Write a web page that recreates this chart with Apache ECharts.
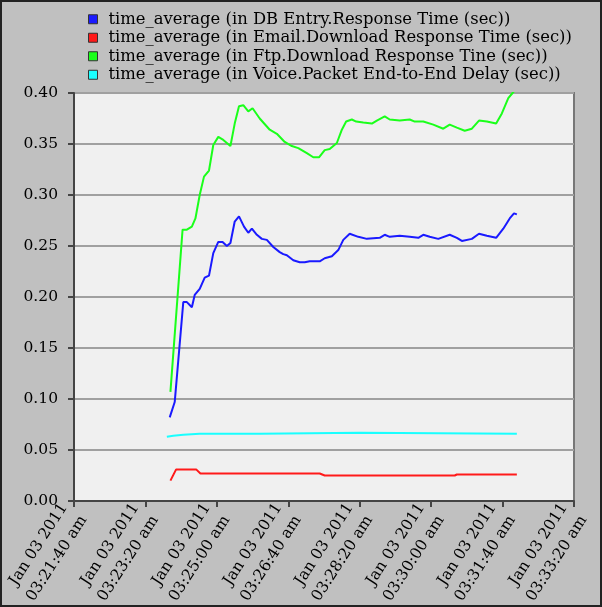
<!doctype html>
<html>
    <head>
        <meta charset="utf-8">
        <title>time_average</title>
        <style>
            html, body { margin: 0; padding: 0; background: #c0c0c0; }
            #frame {
                width: 602px;
                height: 607px;
                box-sizing: border-box;
                border: 2px solid #222;
                background: #c0c0c0;
            }
            #main { width: 598px; height: 603px; }
        </style>
    </head>
    <body>
        <div id="frame"><div id="main"></div></div>
        <script src="https://cdn.jsdelivr.net/npm/echarts@6/dist/echarts.min.js"></script>
        <script>
            // x values are seconds after 03:00:00 on Jan 03 2011
            var seriesNames = [
                'time_average (in DB Entry.Response Time (sec))',
                'time_average (in Email.Download Response Time (sec))',
                'time_average (in Ftp.Download Response Tine (sec))',
                'time_average (in Voice.Packet End-to-End Delay (sec))'
            ];
            var seriesColors = ['#1a1aff', '#ff1a1a', '#1aff1a', '#1affff'];

            var dbTimes = [1434, 1441, 1453, 1458, 1465, 1469, 1476, 1483, 1489, 1495, 1502, 1508, 1514, 1519, 1525,
                1531, 1538, 1544, 1549, 1556, 1563, 1570, 1579, 1588, 1593, 1598, 1607, 1616, 1623, 1630, 1644, 1651,
                1661, 1670, 1677, 1686, 1698, 1710, 1728, 1735, 1742, 1756, 1770, 1782, 1789, 1798, 1810, 1826, 1836,
                1843, 1857, 1867, 1878, 1891, 1901, 1910, 1916, 1920];
            var dbValues = [0.082, 0.097, 0.195, 0.195, 0.190, 0.202, 0.208, 0.219, 0.221, 0.243, 0.254, 0.254, 0.250,
                0.253, 0.274, 0.279, 0.269, 0.263, 0.267, 0.261, 0.257, 0.256, 0.249, 0.244, 0.242, 0.241, 0.236,
                0.234, 0.234, 0.235, 0.235, 0.238, 0.240, 0.246, 0.256, 0.262, 0.259, 0.257, 0.258, 0.261, 0.259,
                0.260, 0.259, 0.258, 0.261, 0.259, 0.257, 0.261, 0.258, 0.255, 0.257, 0.262, 0.260, 0.258, 0.267,
                0.277, 0.282, 0.281];

            var emailTimes = [1435, 1443, 1471, 1477, 1644, 1651, 1833, 1836, 1920];
            var emailValues = [0.020, 0.031, 0.031, 0.027, 0.027, 0.025, 0.025, 0.026, 0.026];

            var ftpTimes = [1435, 1452, 1458, 1465, 1470, 1476, 1482, 1489, 1495, 1502, 1509, 1519, 1525, 1531, 1537,
                1544, 1550, 1560, 1574, 1584, 1595, 1605, 1614, 1626, 1635, 1643, 1651, 1658, 1668, 1675, 1681, 1689,
                1695, 1705, 1717, 1724, 1735, 1742, 1756, 1770, 1777, 1789, 1803, 1817, 1826, 1836, 1847, 1857, 1867,
                1878, 1891, 1899, 1908, 1914, 1920];
            var ftpValues = [0.107, 0.266, 0.266, 0.269, 0.277, 0.300, 0.318, 0.324, 0.349, 0.357, 0.354, 0.348, 0.370,
                0.387, 0.388, 0.382, 0.385, 0.375, 0.364, 0.360, 0.352, 0.348, 0.346, 0.341, 0.337, 0.337, 0.344,
                0.345, 0.351, 0.364, 0.372, 0.374, 0.372, 0.371, 0.370, 0.373, 0.377, 0.374, 0.373, 0.374, 0.372,
                0.372, 0.369, 0.365, 0.369, 0.366, 0.363, 0.365, 0.373, 0.372, 0.370, 0.380, 0.395, 0.400, 0.405];

            var voiceTimes = [1430, 1439, 1453, 1476, 1560, 1700, 1920];
            var voiceValues = [0.063, 0.064, 0.065, 0.066, 0.066, 0.067, 0.066];

            function pairs(xs, ys) {
                return xs.map(function (x, i) { return [x, ys[i]]; });
            }
            function pad(n) { return (n < 10 ? '0' : '') + n; }

            var seriesData = [
                pairs(dbTimes, dbValues),
                pairs(emailTimes, emailValues),
                pairs(ftpTimes, ftpValues),
                pairs(voiceTimes, voiceValues)
            ];

            var font = 'DejaVu Serif';
            var chart = echarts.init(document.getElementById('main'));

            chart.setOption({
                backgroundColor: '#c0c0c0',
                animation: false,
                legend: {
                    orient: 'vertical',
                    left: 81,
                    top: 3,
                    itemWidth: 9,
                    itemHeight: 9,
                    itemGap: 0,
                    icon: 'rect',
                    textStyle: {
                        fontFamily: font, fontSize: 16.4, color: '#000', lineHeight: 18.5,
                        padding: [0, 0, 0, 6]
                    },
                    itemStyle: { borderColor: '#333', borderWidth: 1 },
                    data: seriesNames
                },
                grid: {
                    left: 72,
                    top: 91,
                    width: 500,
                    height: 408,
                    outerBoundsMode: 'none',
                    containLabel: false,
                    show: true,
                    backgroundColor: '#f0f0f0',
                    borderColor: '#777',
                    borderWidth: 2
                },
                xAxis: {
                    type: 'value',
                    min: 1300,
                    max: 2000,
                    interval: 100,
                    axisLine: { lineStyle: { color: '#444', width: 2 } },
                    axisTick: { length: 6, lineStyle: { color: '#444', width: 2 } },
                    splitLine: { show: false },
                    axisLabel: {
                        rotate: 57,
                        margin: 10,
                        fontFamily: font,
                        fontSize: 15.5,
                        color: '#000',
                        lineHeight: 23,
                        hideOverlap: false,
                        formatter: function (s) {
                            return 'Jan 03 2011\n03:' + pad(Math.floor(s / 60)) + ':' + pad(s % 60) + ' am';
                        }
                    }
                },
                yAxis: {
                    type: 'value',
                    min: 0,
                    max: 0.4,
                    interval: 0.05,
                    axisLine: { show: true, lineStyle: { color: '#444', width: 2 } },
                    axisTick: { show: true, length: 6, lineStyle: { color: '#444', width: 2 } },
                    splitLine: { lineStyle: { color: '#a0a0a0', width: 2 } },
                    axisLabel: {
                        margin: 16,
                        fontFamily: font,
                        fontSize: 15.5,
                        color: '#000',
                        formatter: function (v) { return v.toFixed(2); }
                    }
                },
                series: seriesData.map(function (d, i) {
                    return {
                        name: seriesNames[i],
                        type: 'line',
                        data: d,
                        symbol: 'none',
                        color: seriesColors[i],
                        lineStyle: { width: 2, color: seriesColors[i] }
                    };
                })
            });
        </script>
    </body>
</html>
